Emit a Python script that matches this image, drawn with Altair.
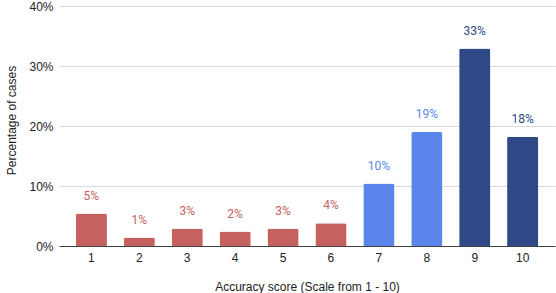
import altair as alt
import pandas as pd

# Accuracy scores and share of cases for each score
scores = ["1", "2", "3", "4", "5", "6", "7", "8", "9", "10"]
shares = [0.054, 0.014, 0.029, 0.024, 0.029, 0.038, 0.104, 0.190, 0.329, 0.182]
groups = ["low", "low", "low", "low", "low", "low", "mid", "mid", "high", "high"]

group_names = ["low", "mid", "high"]
group_colors = ["#c5625f", "#5a86ec", "#2e4985"]

df = pd.DataFrame({"score": scores, "share": shares, "group": groups})

color = alt.Color("group:N", scale=alt.Scale(domain=group_names, range=group_colors), legend=None)

x = alt.X(
    "score:N",
    sort=scores,
    scale=alt.Scale(paddingInner=0.35, paddingOuter=0.35),
    axis=alt.Axis(
        title="Accuracy score (Scale from 1 - 10)",
        labelAngle=0,
        ticks=False,
        labelPadding=6,
        labelFont="Liberation Sans",
        labelFontSize=12,
        labelColor="#222222",
        domainColor="#444444",
        domainWidth=1,
        grid=False,
        titleFont="Liberation Sans",
        titleFontSize=12,
        titleFontWeight="normal",
        titleColor="#222222",
        titleY=40,
        titleBaseline="middle",
    ),
)

y = alt.Y(
    "share:Q",
    scale=alt.Scale(domain=[0, 0.4], nice=False),
    axis=alt.Axis(
        title="Percentage of cases",
        format=".0%",
        values=[0, 0.1, 0.2, 0.3, 0.4],
        ticks=False,
        domain=False,
        labelPadding=6,
        labelFont="Liberation Sans",
        labelFontSize=12,
        labelColor="#222222",
        gridColor="#d9d9d9",
        gridWidth=1,
        titleFont="Liberation Sans",
        titleFontSize=12,
        titleFontWeight="normal",
        titleColor="#222222",
        titleX=-48,
        titleY=114,
        titleBaseline="middle",
        titleAngle=-90,
    ),
)

bars = alt.Chart(df).mark_bar(cornerRadiusTopLeft=2, cornerRadiusTopRight=2).encode(
    x=x, y=y, color=color
)

labels = alt.Chart(df).mark_text(
    baseline="bottom", dy=-11, font="Roboto", fontSize=12
).encode(
    x=alt.X("score:N", sort=scores),
    y="share:Q",
    text=alt.Text("share:Q", format=".0%"),
    color=color,
)

chart = (
    alt.layer(bars, labels)
    .properties(
        width=496,
        height=240,
        background="white",
        autosize=alt.AutoSizeParams(type="none"),
        padding={"left": 59, "top": 6, "right": 1, "bottom": 47},
    )
    .configure_view(strokeWidth=0, stroke="transparent")
)

chart.save("out.html", embed_options={"renderer": "svg", "actions": False})
